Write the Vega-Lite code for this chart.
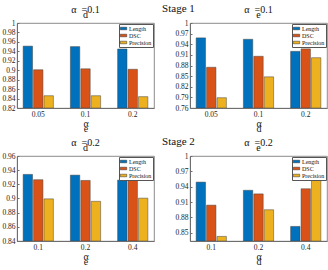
{
  "$schema": "https://vega.github.io/schema/vega-lite/v6.json",
  "padding": {"left": 1, "top": 2, "right": 0, "bottom": 0},
  "datasets": {
    "bars": [
      {"panel": 1, "param": "0.05", "metric": "Length", "value": 0.951},
      {"panel": 1, "param": "0.05", "metric": "DSC", "value": 0.901},
      {"panel": 1, "param": "0.05", "metric": "Precision", "value": 0.846},
      {"panel": 1, "param": "0.1", "metric": "Length", "value": 0.950},
      {"panel": 1, "param": "0.1", "metric": "DSC", "value": 0.903},
      {"panel": 1, "param": "0.1", "metric": "Precision", "value": 0.846},
      {"panel": 1, "param": "0.2", "metric": "Length", "value": 0.945},
      {"panel": 1, "param": "0.2", "metric": "DSC", "value": 0.902},
      {"panel": 1, "param": "0.2", "metric": "Precision", "value": 0.844},
      {"panel": 2, "param": "0.05", "metric": "Length", "value": 0.958},
      {"panel": 2, "param": "0.05", "metric": "DSC", "value": 0.875},
      {"panel": 2, "param": "0.05", "metric": "Precision", "value": 0.789},
      {"panel": 2, "param": "0.1", "metric": "Length", "value": 0.954},
      {"panel": 2, "param": "0.1", "metric": "DSC", "value": 0.906},
      {"panel": 2, "param": "0.1", "metric": "Precision", "value": 0.848},
      {"panel": 2, "param": "0.2", "metric": "Length", "value": 0.920},
      {"panel": 2, "param": "0.2", "metric": "DSC", "value": 0.927},
      {"panel": 2, "param": "0.2", "metric": "Precision", "value": 0.902},
      {"panel": 3, "param": "0.1", "metric": "Length", "value": 0.934},
      {"panel": 3, "param": "0.1", "metric": "DSC", "value": 0.9265},
      {"panel": 3, "param": "0.1", "metric": "Precision", "value": 0.8995},
      {"panel": 3, "param": "0.2", "metric": "Length", "value": 0.933},
      {"panel": 3, "param": "0.2", "metric": "DSC", "value": 0.9255},
      {"panel": 3, "param": "0.2", "metric": "Precision", "value": 0.896},
      {"panel": 3, "param": "0.4", "metric": "Length", "value": 0.926},
      {"panel": 3, "param": "0.4", "metric": "DSC", "value": 0.928},
      {"panel": 3, "param": "0.4", "metric": "Precision", "value": 0.9005},
      {"panel": 4, "param": "0.1", "metric": "Length", "value": 0.949},
      {"panel": 4, "param": "0.1", "metric": "DSC", "value": 0.904},
      {"panel": 4, "param": "0.1", "metric": "Precision", "value": 0.843},
      {"panel": 4, "param": "0.2", "metric": "Length", "value": 0.933},
      {"panel": 4, "param": "0.2", "metric": "DSC", "value": 0.926},
      {"panel": 4, "param": "0.2", "metric": "Precision", "value": 0.895},
      {"panel": 4, "param": "0.4", "metric": "Length", "value": 0.8625},
      {"panel": 4, "param": "0.4", "metric": "DSC", "value": 0.936},
      {"panel": 4, "param": "0.4", "metric": "Precision", "value": 0.956}
    ]
  },
  "data": {"name": "bars"},
  "spacing": 1,
  "resolve": {"scale": {"x": "independent", "y": "independent", "color": "independent", "xOffset": "independent"}, "legend": {"color": "independent"}, "axis": {"x": "independent", "y": "independent"}},
  "vconcat": [
    {
      "title": {"text": "Stage 1", "fontSize": 11, "anchor": "middle", "dx": 14, "offset": -9},
      "bounds": "flush",
      "spacing": 36,
      "resolve": {"scale": {"x": "independent", "y": "independent", "color": "independent", "xOffset": "independent"}, "legend": {"color": "independent"}},
      "hconcat": [
        {
          "width": 137, "height": 85,
          "title": {"text": ["α\u00a0\u00a0=0.1", "d\u00a0\u00a0\u00a0\u00a0\u00a0"]},
          "transform": [{"filter": "datum.panel == 1"}],
          "mark": {"type": "bar", "stroke": "#444", "strokeWidth": 0.5, "clip": true},
          "encoding": {
            "x": {"field": "param", "type": "nominal", "sort": ["0.05", "0.1", "0.2"], "scale": {"paddingInner": 0.36, "paddingOuter": 0.13}, "axis": {"title": ["α\u00a0\u00a0\u00a0\u00a0", "\u00a0\u00a0\u00a0\u00a0e"], "labelAngle": 0}},
            "xOffset": {"field": "metric", "sort": ["Length", "DSC", "Precision"], "scale": {"paddingInner": 0.1, "paddingOuter": 0}},
            "y": {"field": "value", "type": "quantitative", "scale": {"domain": [0.82, 1], "nice": false, "zero": false, "clamp": true}, "axis": {"title": null, "format": "~g", "values": [0.82, 0.84, 0.86, 0.88, 0.9, 0.92, 0.94, 0.96, 0.98, 1]}},
            "color": {"field": "metric", "type": "nominal", "sort": ["Length", "DSC", "Precision"], "scale": {"domain": ["Length", "DSC", "Precision"], "range": ["#0072BD", "#D95319", "#EDB120"]}}
          }
        },
        {
          "width": 137, "height": 85,
          "title": {"text": ["α\u00a0\u00a0=0.1", "e\u00a0\u00a0\u00a0\u00a0\u00a0"]},
          "transform": [{"filter": "datum.panel == 2"}],
          "mark": {"type": "bar", "stroke": "#444", "strokeWidth": 0.5, "clip": true},
          "encoding": {
            "x": {"field": "param", "type": "nominal", "sort": ["0.05", "0.1", "0.2"], "scale": {"paddingInner": 0.36, "paddingOuter": 0.13}, "axis": {"title": ["α\u00a0\u00a0\u00a0\u00a0", "\u00a0\u00a0\u00a0\u00a0d"], "labelAngle": 0}},
            "xOffset": {"field": "metric", "sort": ["Length", "DSC", "Precision"], "scale": {"paddingInner": 0.1, "paddingOuter": 0}},
            "y": {"field": "value", "type": "quantitative", "scale": {"domain": [0.76, 1], "nice": false, "zero": false, "clamp": true}, "axis": {"title": null, "format": "~g", "values": [0.76, 0.79, 0.82, 0.85, 0.88, 0.91, 0.94, 0.97, 1]}},
            "color": {"field": "metric", "type": "nominal", "sort": ["Length", "DSC", "Precision"], "scale": {"domain": ["Length", "DSC", "Precision"], "range": ["#0072BD", "#D95319", "#EDB120"]}}
          }
        }
      ]
    },
    {
      "title": {"text": "Stage 2", "fontSize": 11, "anchor": "middle", "dx": 14, "offset": -9},
      "bounds": "flush",
      "spacing": 36,
      "resolve": {"scale": {"x": "independent", "y": "independent", "color": "independent", "xOffset": "independent"}, "legend": {"color": "independent"}},
      "hconcat": [
        {
          "width": 137, "height": 85,
          "title": {"text": ["α\u00a0\u00a0=0.2", "d\u00a0\u00a0\u00a0\u00a0\u00a0"]},
          "transform": [{"filter": "datum.panel == 3"}],
          "mark": {"type": "bar", "stroke": "#444", "strokeWidth": 0.5, "clip": true},
          "encoding": {
            "x": {"field": "param", "type": "nominal", "sort": ["0.1", "0.2", "0.4"], "scale": {"paddingInner": 0.36, "paddingOuter": 0.13}, "axis": {"title": ["α\u00a0\u00a0\u00a0\u00a0", "\u00a0\u00a0\u00a0\u00a0e"], "labelAngle": 0}},
            "xOffset": {"field": "metric", "sort": ["Length", "DSC", "Precision"], "scale": {"paddingInner": 0.1, "paddingOuter": 0}},
            "y": {"field": "value", "type": "quantitative", "scale": {"domain": [0.84, 0.96], "nice": false, "zero": false, "clamp": true}, "axis": {"title": null, "format": "~g", "values": [0.84, 0.86, 0.88, 0.9, 0.92, 0.94, 0.96]}},
            "color": {"field": "metric", "type": "nominal", "sort": ["Length", "DSC", "Precision"], "scale": {"domain": ["Length", "DSC", "Precision"], "range": ["#0072BD", "#D95319", "#EDB120"]}}
          }
        },
        {
          "width": 137, "height": 85,
          "title": {"text": ["α\u00a0\u00a0=0.2", "e\u00a0\u00a0\u00a0\u00a0\u00a0"]},
          "transform": [{"filter": "datum.panel == 4"}],
          "mark": {"type": "bar", "stroke": "#444", "strokeWidth": 0.5, "clip": true},
          "encoding": {
            "x": {"field": "param", "type": "nominal", "sort": ["0.1", "0.2", "0.4"], "scale": {"paddingInner": 0.36, "paddingOuter": 0.13}, "axis": {"title": ["α\u00a0\u00a0\u00a0\u00a0", "\u00a0\u00a0\u00a0\u00a0d"], "labelAngle": 0}},
            "xOffset": {"field": "metric", "sort": ["Length", "DSC", "Precision"], "scale": {"paddingInner": 0.1, "paddingOuter": 0}},
            "y": {"field": "value", "type": "quantitative", "scale": {"domain": [0.834, 1], "nice": false, "zero": false, "clamp": true}, "axis": {"title": null, "format": "~g", "values": [0.85, 0.88, 0.91, 0.94, 0.97, 1]}},
            "color": {"field": "metric", "type": "nominal", "sort": ["Length", "DSC", "Precision"], "scale": {"domain": ["Length", "DSC", "Precision"], "range": ["#0072BD", "#D95319", "#EDB120"]}}
          }
        }
      ]
    }
  ],
  "config": {
    "font": "Liberation Serif",
    "view": {"stroke": "#6e6e6e", "strokeWidth": 0.8},
    "axis": {"domainColor": "#6e6e6e", "tickColor": "#6e6e6e", "tickSize": -2, "labelPadding": 4, "labelFont": "Liberation Serif", "labelFontSize": 7.5, "labelColor": "#222", "titleFont": "Liberation Serif", "titleFontSize": 10, "titleFontWeight": "normal", "titleColor": "#222", "titleLineHeight": 5, "titlePadding": 1, "grid": false},
    "title": {"font": "Liberation Serif", "fontSize": 10, "fontWeight": "normal", "color": "#111", "lineHeight": 5, "offset": -1},
    "legend": {"orient": "top-right", "offset": 1, "title": null, "fillColor": "white", "strokeColor": "#555", "padding": 1, "labelFont": "Liberation Serif", "labelFontSize": 6, "labelColor": "#111", "symbolType": "M-1,-0.4H1V0.4H-1Z", "symbolSize": 42, "symbolStrokeColor": "#333", "symbolStrokeWidth": 0.5, "rowPadding": 0, "labelOffset": 2, "symbolOffset": 0}
  }
}
